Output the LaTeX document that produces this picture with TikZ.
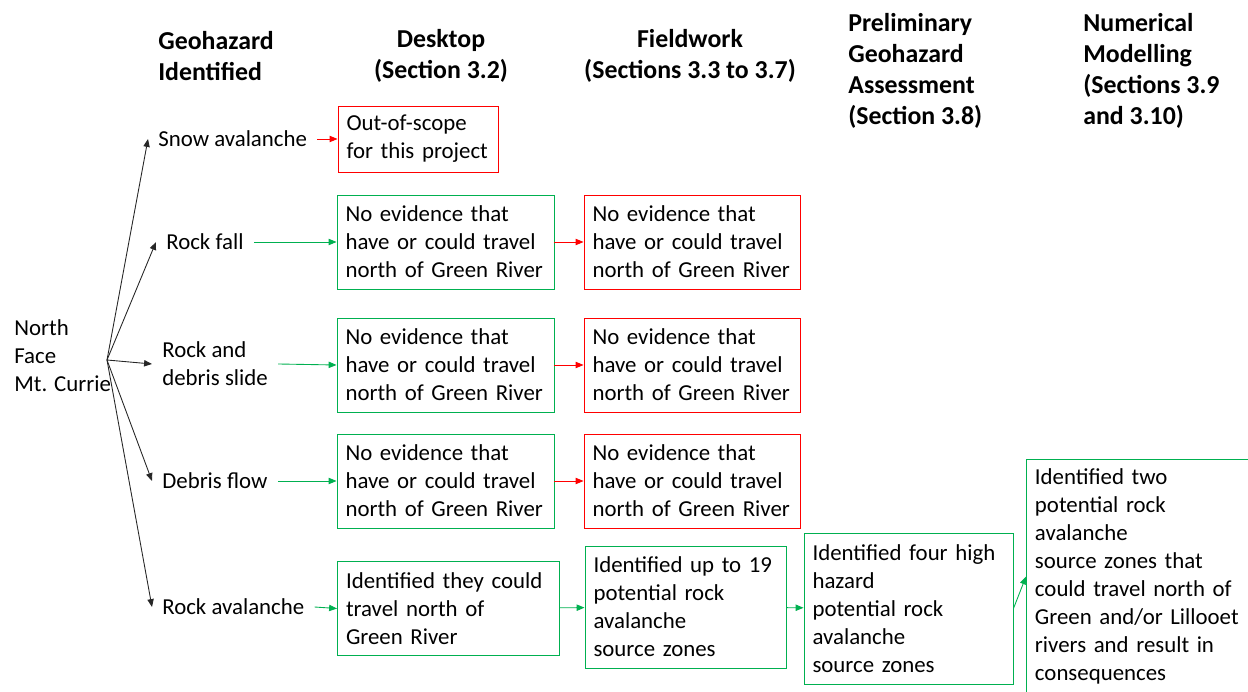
\documentclass[tikz,border=0pt]{standalone}
\usepackage{fontspec}
\setmainfont{Carlito}
\usepackage{tikz}
\usetikzlibrary{arrows.meta}
\definecolor{okgreen}{RGB}{0,176,80}
\definecolor{nogo}{RGB}{255,0,0}

\begin{document}
\begin{tikzpicture}[x=0.02cm, y=-0.02cm,
    font=\fontsize{13}{15.9}\selectfont,
    head/.style={font=\fontsize{14.7}{17.6}\selectfont\bfseries, inner sep=0pt},
    hazard/.style={align=left, inner xsep=0.2cm, inner ysep=0pt},
    box/.style={draw, line width=0.55pt, align=left, inner xsep=0.17cm, inner ysep=0pt},
    tip/.style={-{Triangle[length=4.5pt, width=3.6pt]}, line width=0.5pt}]
  \useasboundingbox (0,0) rectangle (1248,692);
  % column headings
  \node[head, align=left, anchor=west] (hhaz) at (158,56) {Geohazard\\Identified};
  \node[head, align=center] (hdesk) at (441,56) {Desktop\\(Section 3.2)};
  \node[head, align=center] (hfield) at (690,56) {Fieldwork\\(Sections 3.3 to 3.7)};
  \node[head, align=left, anchor=west] (hprelim) at (848,71) {Preliminary\\Geohazard\\Assessment\\(Section 3.8)};
  \node[head, align=left, anchor=west] (hnum) at (1083,71) {Numerical\\Modelling\\(Sections 3.9\\and 3.10)};
  % source and geohazards
  \node[align=left, anchor=west, inner sep=0pt] (face) at (14,356) {North\\Face\\Mt. Currie};
  \coordinate (fork) at (107,360);
  \node[hazard, anchor=west] (snow) at (148,139) {Snow avalanche};
  \node[hazard, anchor=west] (fall) at (156,242) {Rock fall};
  \node[hazard, anchor=west] (slide) at (152,364) {Rock and\\debris slide};
  \node[hazard, anchor=west] (flow) at (152,481) {Debris flow};
  \node[hazard, anchor=west] (rav) at (152,607) {Rock avalanche};
  \foreach \h in {snow, fall, slide, flow, rav}
    \draw[tip, black!85] (fork) -- (\h.west);
  % desktop
  \node[box, nogo, text=black, text width=2.86cm, minimum height=1.32cm] (oos) at (418,139) {Out-of-scope\\for this project};
  \node[box, okgreen, text=black, text width=4.0cm, minimum height=1.88cm] (dfall) at (445.5,242) {No evidence that\\have or could travel\\north of Green River};
  \node[box, okgreen, text=black, text width=4.0cm, minimum height=1.88cm] (dslide) at (445.5,365) {No evidence that\\have or could travel\\north of Green River};
  \node[box, okgreen, text=black, text width=4.0cm, minimum height=1.88cm] (dflow) at (445.5,481) {No evidence that\\have or could travel\\north of Green River};
  \node[box, okgreen, text=black, text width=4.1cm, minimum height=1.88cm] (drav) at (448.5,608.5) {Identified they could\\travel north of\\Green River};
  % fieldwork
  \node[box, nogo, text=black, text width=3.98cm, minimum height=1.88cm] (ffall) at (692,242) {No evidence that\\have or could travel\\north of Green River};
  \node[box, nogo, text=black, text width=3.98cm, minimum height=1.88cm] (fslide) at (692,365) {No evidence that\\have or could travel\\north of Green River};
  \node[box, nogo, text=black, text width=3.98cm, minimum height=1.88cm] (fflow) at (692,481) {No evidence that\\have or could travel\\north of Green River};
  \node[box, okgreen, text=black, text width=3.68cm, minimum height=2.44cm] (frav) at (685.5,607) {Identified up to 19\\potential rock\\avalanche\\source zones};
  % preliminary assessment and modelling
  \node[box, okgreen, text=black, text width=3.84cm, minimum height=3.02cm] (prav) at (908.5,608.5) {Identified four high\\hazard\\potential rock\\avalanche\\source zones};
  \node[box, okgreen, text=black, text width=4.56cm, minimum height=4.7cm, anchor=west] (nrav) at (1026,576.5) {Identified two\\potential rock\\avalanche\\source zones that\\could travel north of\\Green and/or Lillooet\\rivers and result in\\consequences};
  % connectors
  \draw[tip, nogo] (snow.east) -- (oos.west);
  \draw[tip, okgreen] (fall.east) -- (dfall.west);
  \draw[tip, okgreen] (slide.east) -- (dslide.west);
  \draw[tip, okgreen] (flow.east) -- (dflow.west);
  \draw[tip, okgreen] (rav.east) -- (drav.west);
  \draw[tip, nogo] (dfall) -- (ffall);
  \draw[tip, nogo] (dslide) -- (fslide);
  \draw[tip, nogo] (dflow) -- (fflow);
  \draw[tip, okgreen] (drav) -- (frav);
  \draw[tip, okgreen] (frav) -- (prav);
  \draw[tip, okgreen] (prav.east) -- (nrav.west);
\end{tikzpicture}
\end{document}
